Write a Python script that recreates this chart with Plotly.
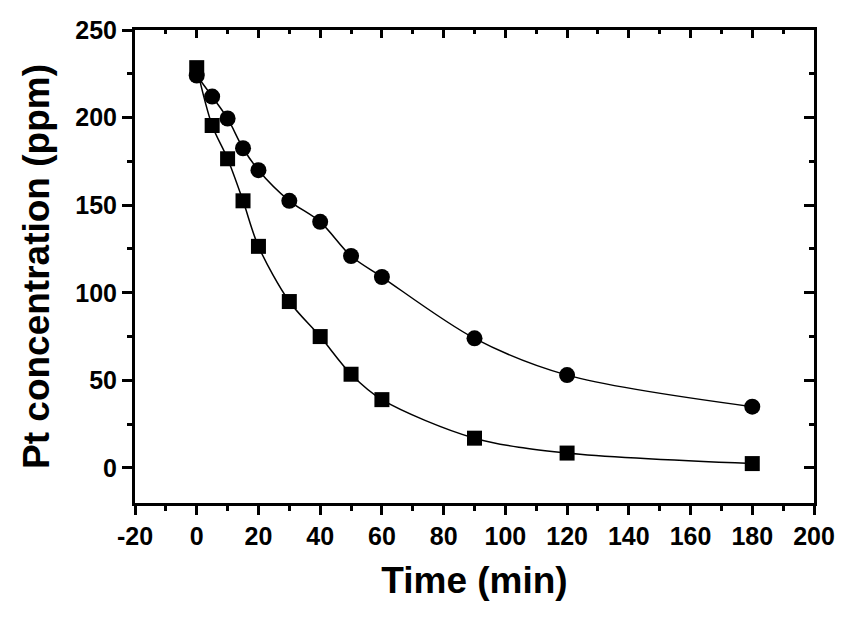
import plotly.graph_objects as go

# Data
time_circle = [0, 5, 10, 15, 20, 30, 40, 50, 60, 90, 120, 180]
conc_circle = [224, 212, 199.5, 182.5, 170, 152.5, 140.5, 121, 109, 74, 53, 35]
time_square = [0, 5, 10, 15, 20, 30, 40, 50, 60, 90, 120, 180]
conc_square = [228.5, 195.5, 176.5, 152.5, 126.5, 95, 75, 53.5, 39, 17, 8.5, 2.5]

x_ticks = [-20, 0, 20, 40, 60, 80, 100, 120, 140, 160, 180, 200]
y_ticks = [0, 50, 100, 150, 200, 250]
x_range = [-20, 200]
y_range = [-20, 250]

FONT = "Liberation Sans"

fig = go.Figure()
fig.add_trace(go.Scatter(
    x=time_circle, y=conc_circle, mode="lines+markers",
    line=dict(color="black", width=1.5, shape="spline", smoothing=0.9),
    marker=dict(symbol="circle", size=16, color="black"),
    showlegend=False))
fig.add_trace(go.Scatter(
    x=time_square, y=conc_square, mode="lines+markers",
    line=dict(color="black", width=1.5, shape="spline", smoothing=0.9),
    marker=dict(symbol="square", size=15, color="black"),
    showlegend=False))
# invisible trace to activate mirror axes (top/right)
fig.add_trace(go.Scatter(x=[x_range[0]], y=[y_range[0]], xaxis="x2", yaxis="y2",
                         mode="markers", marker=dict(opacity=0), showlegend=False,
                         hoverinfo="skip"))

common = dict(showgrid=False, zeroline=False, showline=True, linecolor="black",
              linewidth=3, tickcolor="black", tickwidth=3, automargin=False)

fig.update_layout(
    width=856, height=622,
    paper_bgcolor="white", plot_bgcolor="white",
    margin=dict(l=127, r=50, t=22, b=127),
    font=dict(family=FONT, color="black"),
    xaxis=dict(range=x_range, tickvals=x_ticks, ticktext=[str(v) for v in x_ticks],
               ticks="outside", ticklen=9,
               minor=dict(dtick=10, tick0=0, ticks="outside", ticklen=5,
                          tickwidth=3, tickcolor="black"),
               tickfont=dict(family=FONT, size=25, weight="bold"),
               title=dict(text="Time (min)", standoff=19,
                          font=dict(family=FONT, size=37, weight="bold")),
               **common),
    yaxis=dict(range=y_range, tickvals=y_ticks, ticktext=[str(v) for v in y_ticks],
               ticks="outside", ticklen=10,
               minor=dict(dtick=25, tick0=0, ticks="outside", ticklen=5,
                          tickwidth=3, tickcolor="black"),
               tickfont=dict(family=FONT, size=25, weight="bold"),
               title=dict(text="Pt concentration (ppm)", standoff=15,
                          font=dict(family=FONT, size=37, weight="bold")),
               **common),
    xaxis2=dict(range=x_range, overlaying="x", side="top", tickvals=x_ticks,
                showticklabels=False, ticks="inside", ticklen=8,
                minor=dict(dtick=10, tick0=0, ticks="inside", ticklen=4,
                           tickwidth=3, tickcolor="black"),
                **common),
    yaxis2=dict(range=y_range, overlaying="y", side="right", tickvals=y_ticks,
                showticklabels=False, ticks="inside", ticklen=10,
                minor=dict(dtick=25, tick0=0, ticks="inside", ticklen=5,
                           tickwidth=3, tickcolor="black"),
                **common),
)

fig.write_html("out.html")
